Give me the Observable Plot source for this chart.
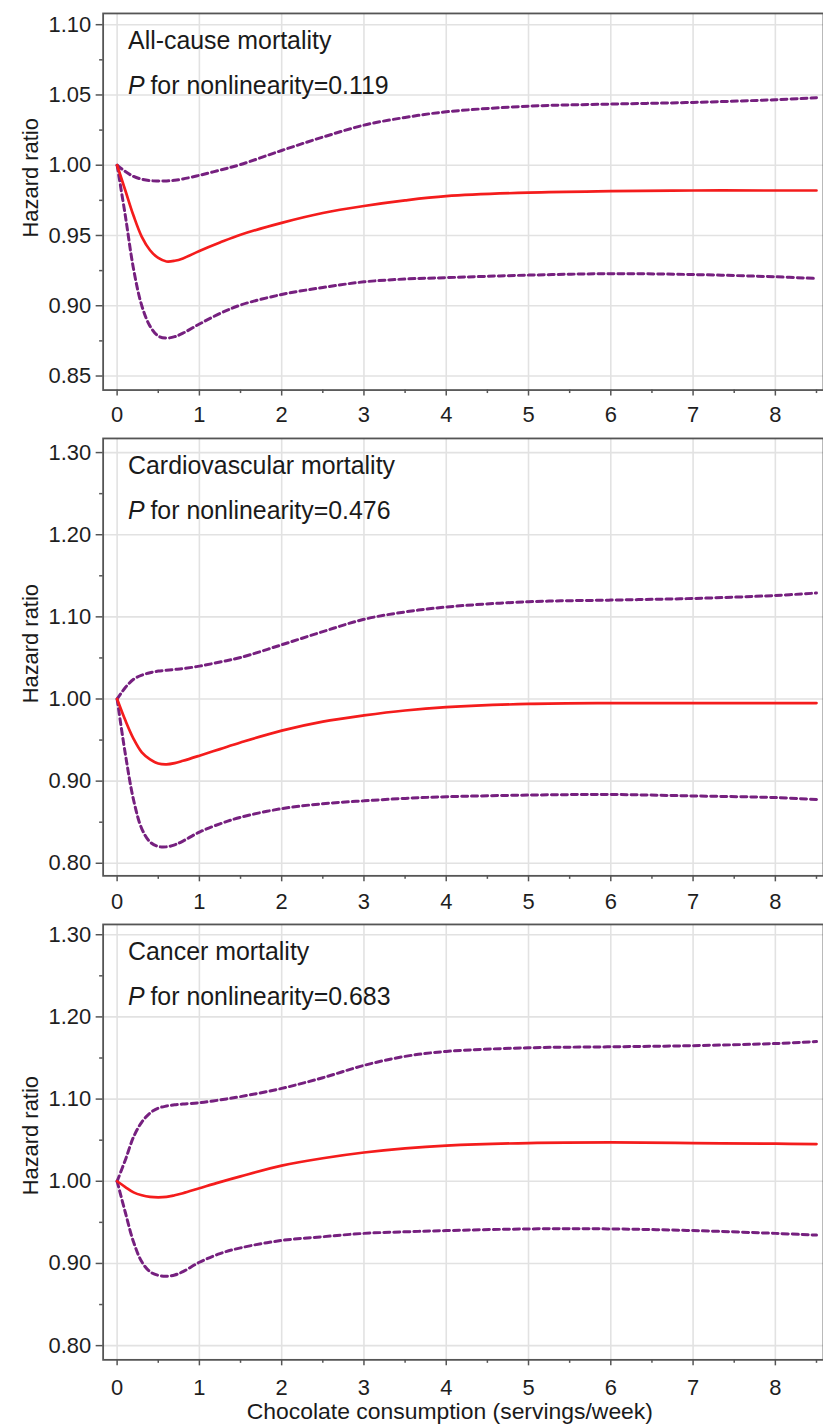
<!DOCTYPE html>
<html><head><meta charset="utf-8">
<script src="https://cdn.jsdelivr.net/npm/d3@7"></script>
<script src="https://cdn.jsdelivr.net/npm/@observablehq/plot@0.6"></script>
<style>
html,body{margin:0;padding:0;background:#fff;}
#chart{width:823px;height:1428px;overflow:hidden;position:relative;background:#fff;}
#chart svg{display:block;}
</style></head><body><div id="chart"></div>
<script>
// Chocolate consumption (servings/week)
const xs = [0, 0.1, 0.2, 0.3, 0.4, 0.5, 0.6, 0.7, 0.8, 1.0, 1.25, 1.5, 2, 2.5, 3, 3.5, 4, 5, 6, 7, 8, 8.5];

// All-cause mortality
const allHR = [1.000, 0.982, 0.964, 0.949, 0.9395, 0.934, 0.9315, 0.932, 0.9337, 0.9390, 0.945, 0.9505, 0.959, 0.966, 0.971, 0.975, 0.978, 0.9805, 0.9815, 0.982, 0.982, 0.982];
const allLo = [1.000, 0.964, 0.926, 0.900, 0.8855, 0.8785, 0.877, 0.878, 0.8805, 0.8870, 0.8945, 0.9005, 0.908, 0.913, 0.917, 0.919, 0.920, 0.9218, 0.9228, 0.9222, 0.9206, 0.9194];
const allHi = [1.000, 0.9955, 0.992, 0.990, 0.989, 0.9888, 0.9888, 0.9893, 0.9902, 0.9928, 0.9965, 1.0005, 1.0105, 1.020, 1.0285, 1.034, 1.038, 1.042, 1.0435, 1.0447, 1.0466, 1.048];

// Cardiovascular mortality
const cvdHR = [1.000, 0.974, 0.9515, 0.935, 0.9265, 0.9215, 0.9205, 0.922, 0.9248, 0.9310, 0.9390, 0.9470, 0.9615, 0.9725, 0.980, 0.986, 0.990, 0.994, 0.995, 0.995, 0.995, 0.995];
const cvdLo = [1.000, 0.933, 0.877, 0.842, 0.826, 0.8205, 0.820, 0.8225, 0.827, 0.8380, 0.848, 0.856, 0.8665, 0.8725, 0.876, 0.879, 0.881, 0.883, 0.8837, 0.882, 0.880, 0.8776];
const cvdHi = [1.000, 1.014, 1.024, 1.029, 1.032, 1.034, 1.035, 1.036, 1.037, 1.040, 1.045, 1.0505, 1.066, 1.082, 1.097, 1.106, 1.112, 1.1184, 1.1204, 1.1224, 1.126, 1.129];

// Cancer mortality
const canHR = [1.000, 0.993, 0.9865, 0.983, 0.981, 0.9805, 0.981, 0.983, 0.9855, 0.9915, 0.999, 1.006, 1.019, 1.028, 1.035, 1.040, 1.0433, 1.0465, 1.0473, 1.0465, 1.0457, 1.0453];
const canLo = [1.000, 0.962, 0.926, 0.902, 0.890, 0.8855, 0.8845, 0.886, 0.890, 0.9015, 0.912, 0.919, 0.928, 0.9325, 0.9366, 0.9385, 0.940, 0.942, 0.942, 0.940, 0.9366, 0.9345];
const canHi = [1.000, 1.026, 1.054, 1.072, 1.083, 1.089, 1.0915, 1.093, 1.094, 1.0955, 1.099, 1.103, 1.113, 1.126, 1.141, 1.152, 1.158, 1.1624, 1.1636, 1.165, 1.1676, 1.170];

const titles = ["All-cause mortality", "Cardiovascular mortality", "Cancer mortality"];
const pValues = ["0.119", "0.476", "0.683"];
const xTicks = [0, 1, 2, 3, 4, 5, 6, 7, 8];
const xMinorTicks = [0.5, 1.5, 2.5, 3.5, 4.5, 5.5, 6.5, 7.5, 8.5];
const yTicks1 = [0.85, 0.90, 0.95, 1.00, 1.05, 1.10];
const yMinor1 = [0.875, 0.925, 0.975, 1.025, 1.075];
const yTicks23 = [0.80, 0.90, 1.00, 1.10, 1.20, 1.30];
const yMinor23 = [0.85, 0.95, 1.05, 1.15, 1.25];
const yLabel = "Hazard ratio";
const xLabel = "Chocolate consumption (servings/week)";

const RED = "#f41c1c";
const PURPLE = "#76207f";
const GRID = "#e2e2e2";
const FONT = "'Liberation Sans', Arial, Helvetica, sans-serif";

const panels = [
  {title: titles[0], p: pValues[0], hr: allHR, lo: allLo, hi: allHi, domain: [0.84, 1.108], major: yTicks1, minor: yMinor1, height: 427, mt: 13, mb: 36, ylab: 165, xpad: 10, xlab: false},
  {title: titles[1], p: pValues[1], hr: cvdHR, lo: cvdLo, hi: cvdHi, domain: [0.7847, 1.3172], major: yTicks23, minor: yMinor23, height: 487, mt: 13, mb: 35, ylab: 206, xpad: 12, xlab: false},
  {title: titles[2], p: pValues[2], hr: canHR, lo: canLo, hi: canHi, domain: [0.7827, 1.3125], major: yTicks23, minor: yMinor23, height: 514, mt: 13, mb: 64, ylab: 212, xpad: 14, xlab: true}
];

const container = document.getElementById("chart");

for (const cfg of panels) {
  const rows = xs.map((x, i) => ({x, hr: cfg.hr[i], lo: cfg.lo[i], hi: cfg.hi[i]}));
  const marks = [
    Plot.gridX(xTicks, {stroke: GRID, strokeOpacity: 1, strokeWidth: 1.6}),
    Plot.gridY(cfg.major, {stroke: GRID, strokeOpacity: 1, strokeWidth: 1.6}),
    Plot.line(rows, {x: "x", y: "hi", stroke: PURPLE, strokeWidth: 3, strokeDasharray: "6,4", curve: "catmull-rom"}),
    Plot.line(rows, {x: "x", y: "lo", stroke: PURPLE, strokeWidth: 3, strokeDasharray: "6,4", curve: "catmull-rom"}),
    Plot.line(rows, {x: "x", y: "hr", stroke: RED, strokeWidth: 2.7, curve: "catmull-rom"}),
    Plot.frame({stroke: "#555", strokeWidth: 1.8}),
    Plot.axisX(xTicks, {tickSize: 6, tickPadding: cfg.xpad, fontSize: 22, tickFormat: d => String(d), label: null, stroke: "#555", strokeWidth: 1.5, fill: "#1e1e1e"}),
    Plot.axisX(xMinorTicks, {tickSize: 3.5, tickFormat: () => "", label: null, stroke: "#555", strokeWidth: 1.5}),
    Plot.axisY(cfg.major, {tickSize: 7, tickPadding: 5, fontSize: 22, tickFormat: d => d.toFixed(2), label: null, stroke: "#555", strokeWidth: 1.5, fill: "#1e1e1e"}),
    Plot.axisY(cfg.minor, {tickSize: 3.5, tickFormat: () => "", label: null, stroke: "#555", strokeWidth: 1.5}),
    Plot.text([cfg.title], {text: d => d, frameAnchor: "top-left", dx: 25, dy: 35.5, textAnchor: "start", lineAnchor: "bottom", fontSize: 25, fill: "#1a1a1a"}),
    Plot.text(["P"], {text: d => d, frameAnchor: "top-left", dx: 25, dy: 80.5, textAnchor: "start", lineAnchor: "bottom", fontSize: 25, fontStyle: "italic", fill: "#1a1a1a"}),
    Plot.text(["for nonlinearity=" + cfg.p], {text: d => d, frameAnchor: "top-left", dx: 47.5, dy: 80.5, textAnchor: "start", lineAnchor: "bottom", fontSize: 25, fill: "#1a1a1a"}),
    Plot.text([yLabel], {text: d => d, frameAnchor: "top-left", dx: -81, dy: cfg.ylab, rotate: -90, textAnchor: "middle", fontSize: 22, fill: "#1a1a1a"})
  ];
  if (cfg.xlab) {
    marks.push(Plot.text([xLabel], {text: d => d, frameAnchor: "bottom", dx: -13.5, dy: 59, lineAnchor: "bottom", textAnchor: "middle", fontSize: 23, fill: "#1a1a1a"}));
  }
  const svg = Plot.plot({
    width: 826,
    height: cfg.height,
    marginLeft: 103,
    marginRight: 0,
    marginTop: cfg.mt,
    marginBottom: cfg.mb,
    x: {domain: [-0.17, 8.585], label: null},
    y: {domain: cfg.domain, label: null},
    style: {fontFamily: FONT, background: "transparent", color: "#333", overflow: "visible"},
    marks
  });
  container.appendChild(svg);
}
</script>
</body></html>
